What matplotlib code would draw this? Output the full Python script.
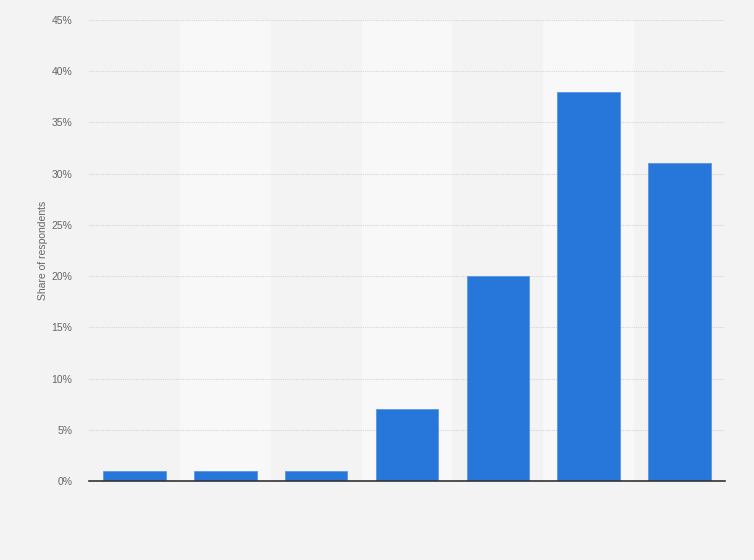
import matplotlib
matplotlib.use("Agg")
import matplotlib.pyplot as plt
from matplotlib.ticker import FuncFormatter

categories = ["1", "2", "3", "4", "5", "6", "7"]
values = [1, 1, 1, 7, 20, 38, 31]
yticks = [0, 5, 10, 15, 20, 25, 30, 35, 40, 45]

plt.rcParams['font.family'] = ['Liberation Sans', 'DejaVu Sans']

fig = plt.figure(figsize=(7.54, 5.6), dpi=100)
fig.patch.set_facecolor('#f3f3f3')
ax = fig.add_axes([89/754, 1-481/560, (725-89)/754, (481-20)/560])
ax.set_facecolor('#f3f3f3')

x = list(range(len(categories)))
for i in x:
    if i % 2 == 1:
        ax.axvspan(i-0.5, i+0.5, color='#f8f8f8', zorder=0, lw=0)

ax.set_yticks(yticks)
ax.yaxis.grid(True, color='#d6d6d6', linestyle=(0, (1, 1)), linewidth=0.8, zorder=1)
ax.bar(x, values, width=0.69, color='#2776da', zorder=3, edgecolor='#5a95e3', linewidth=0.6)

ax.set_xlim(-0.5, len(categories)-0.5)
ax.set_ylim(0, 45)
ax.yaxis.set_major_formatter(FuncFormatter(lambda v, p: f"{int(v)}%"))
ax.tick_params(axis='y', length=0, labelsize=7.5, colors='#666666', pad=12)
ax.tick_params(axis='x', length=0, labelbottom=False)
for s in ['top', 'right', 'left']:
    ax.spines[s].set_visible(False)
ax.spines['bottom'].set_color('#333333')
ax.spines['bottom'].set_linewidth(1.2)
ax.spines['bottom'].set_zorder(4)
ax.set_ylabel("Share of respondents", fontsize=7.5, color='#666666', labelpad=2.5)

fig.savefig("out.png", dpi=100, facecolor=fig.get_facecolor())
